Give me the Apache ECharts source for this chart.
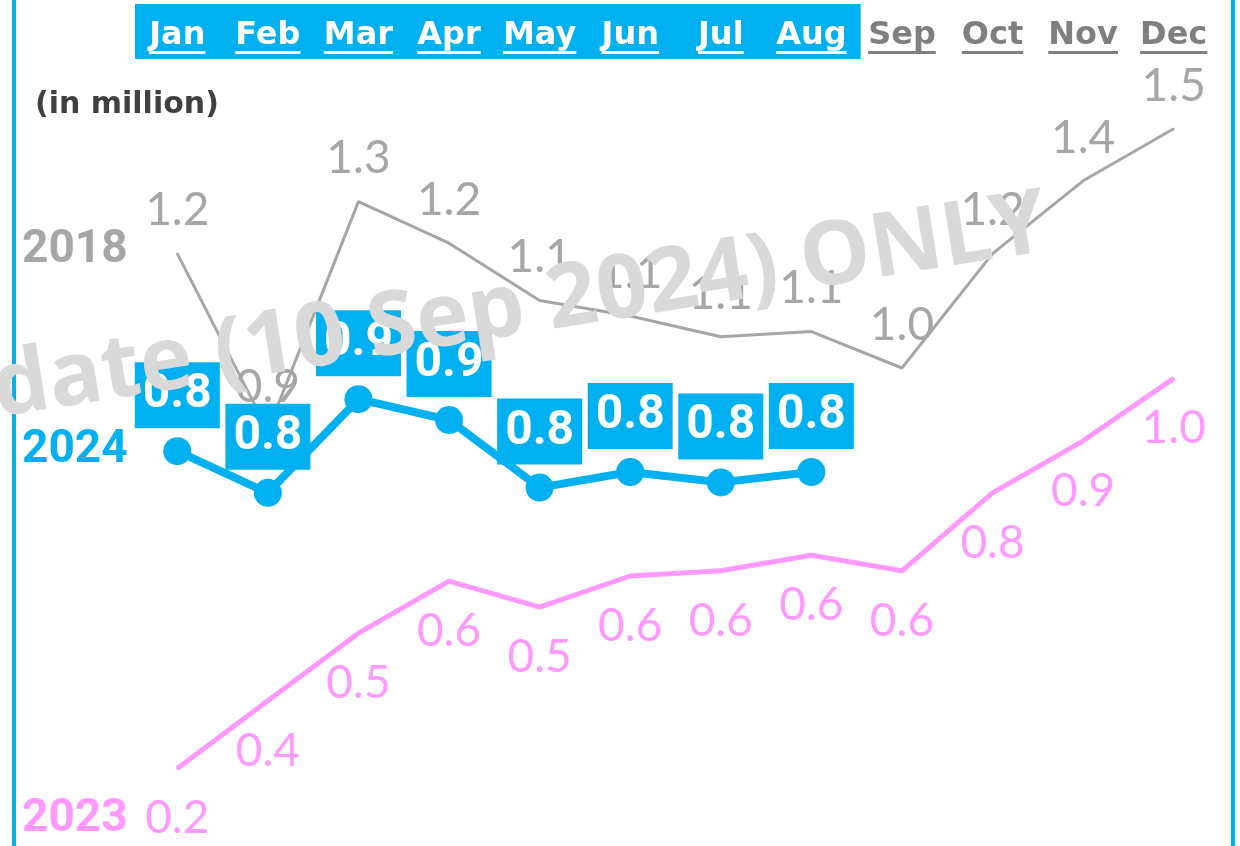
<!DOCTYPE html>
<html>
<head>
<meta charset="utf-8">
<script src="https://cdn.jsdelivr.net/npm/echarts@6/dist/echarts.min.js"></script>
<style>
  html, body { margin: 0; padding: 0; background: #fff; }
  #chart { width: 1240px; height: 846px; }
</style>
</head>
<body>
<div id="chart"></div>
<script>
// monthly visitors, in million
const months = ['Jan', 'Feb', 'Mar', 'Apr', 'May', 'Jun', 'Jul', 'Aug', 'Sep', 'Oct', 'Nov', 'Dec']
const v2018 = [1.22, 0.88, 1.32, 1.24, 1.13, 1.10, 1.06, 1.07, 1.00, 1.22, 1.36, 1.46]
const v2023 = [0.23, 0.36, 0.49, 0.59, 0.54, 0.60, 0.61, 0.64, 0.61, 0.76, 0.86, 0.98]
const v2024 = [0.84, 0.76, 0.94, 0.90, 0.77, 0.80, 0.78, 0.80]
const unitText = '(in million)'
const watermarkText = 'Update (10 Sep 2024) ONLY'

const BLUE = '#00b0f0'
const PINK = '#ff99ff'
const GREY = '#a6a6a6'
const DARK = '#7f7f7f'

const chart = echarts.init(document.getElementById('chart'))

const fmt = p => p.value.toFixed(1)

const option = {
  animation: false,
  grid: { left: 132, right: 21, top: 56, bottom: 10 },
  xAxis: {
    type: 'category',
    position: 'top',
    data: months,
    z: 5,
    axisLine: { show: false },
    axisTick: { show: false },
    axisLabel: {
      margin: 4,
      interval: 0,
      fontFamily: 'DejaVu Sans',
      fontWeight: 'bold',
      fontSize: 32,
      lineHeight: 32,
      color: (val, idx) => (idx < v2024.length ? '#fff' : DARK)
    }
  },
  yAxis: { type: 'value', min: 0.1, max: 1.6, show: false },
  series: [
    {
      name: '2018',
      type: 'line',
      data: v2018,
      symbol: 'circle',
      symbolSize: 2,
      z: 2,
      lineStyle: { color: GREY, width: 3 },
      itemStyle: { color: GREY },
      label: {
        show: true,
        position: 'top',
        distance: 19,
        formatter: fmt,
        color: GREY,
        fontFamily: 'Lato',
        fontWeight: 'normal',
        fontSize: 46,
        lineHeight: 46
      }
    },
    {
      name: '2023',
      type: 'line',
      data: v2023,
      symbol: 'circle',
      symbolSize: 2,
      z: 2,
      lineStyle: { color: PINK, width: 5 },
      itemStyle: { color: PINK },
      label: {
        show: true,
        position: 'bottom',
        distance: 26,
        formatter: fmt,
        color: PINK,
        fontFamily: 'Lato',
        fontWeight: 'normal',
        fontSize: 46,
        lineHeight: 46
      }
    },
    {
      name: '2024',
      type: 'line',
      data: v2024,
      symbol: 'circle',
      symbolSize: 28,
      z: 4,
      lineStyle: { color: BLUE, width: 8 },
      itemStyle: { color: BLUE },
      label: {
        show: true,
        position: 'top',
        distance: 9,
        formatter: fmt,
        color: '#fff',
        backgroundColor: BLUE,
        padding: [8, 8, 8, 8],
        fontFamily: 'Roboto',
        fontWeight: 'bold',
        fontSize: 48,
        lineHeight: 50
      }
    }
  ]
}

chart.setOption(option)

// positions taken from the laid-out axes
const px = i => chart.convertToPixel({ xAxisIndex: 0 }, months[i])
const py = v => chart.convertToPixel({ yAxisIndex: 0 }, v)
const band = px(1) - px(0)

const ctx = document.createElement('canvas').getContext('2d')
ctx.font = 'bold 32px "DejaVu Sans"'

const underlines = months.map((m, i) => {
  const w = ctx.measureText(m).width
  return {
    type: 'rect',
    z: 6,
    shape: { x: px(i) - w / 2, y: 51, width: w, height: 3 },
    style: { fill: i < v2024.length ? '#fff' : DARK }
  }
})

const yearLabel = (text, y, color) => ({
  type: 'text',
  x: 22,
  y: y,
  z: 6,
  style: {
    text: text,
    fill: color,
    fontFamily: 'Roboto',
    fontWeight: 'bold',
    fontSize: 46,
    textVerticalAlign: 'middle',
    verticalAlign: 'middle'
  }
})

chart.setOption({
  graphic: [
    {
      type: 'rect',
      z: 0,
      shape: {
        x: px(0) - band / 2 + 3,
        y: 4,
        width: px(v2024.length - 1) - px(0) + band + 1,
        height: 55
      },
      style: { fill: BLUE }
    },
    ...underlines,
    { type: 'rect', z: 10, shape: { x: 12, y: 0, width: 4, height: 846 }, style: { fill: BLUE } },
    { type: 'rect', z: 10, shape: { x: 1231, y: 0, width: 4, height: 846 }, style: { fill: BLUE } },
    {
      type: 'text',
      x: 35,
      y: 105,
      z: 6,
      style: {
        text: unitText,
        fill: '#404040',
        fontFamily: 'DejaVu Sans',
        fontWeight: 'bold',
        fontSize: 30,
        textVerticalAlign: 'middle',
        verticalAlign: 'middle'
      }
    },
    yearLabel('2018', py(v2018[0]) - 3, GREY),
    yearLabel('2024', py(v2024[0]) - 1, BLUE),
    yearLabel('2023', py(v2023[0]) + 51, PINK),
    {
      type: 'text',
      x: 459,
      y: 318,
      z: 100,
      rotation: 9 * Math.PI / 180,
      style: {
        text: watermarkText,
        fill: '#d9d9d9',
        fontFamily: 'Open Sans',
        fontWeight: 'bold',
        fontSize: 89,
        textAlign: 'center',
        align: 'center',
        textVerticalAlign: 'middle',
        verticalAlign: 'middle'
      }
    }
  ]
})

window.addEventListener('resize', () => chart.resize())
</script>
</body>
</html>
